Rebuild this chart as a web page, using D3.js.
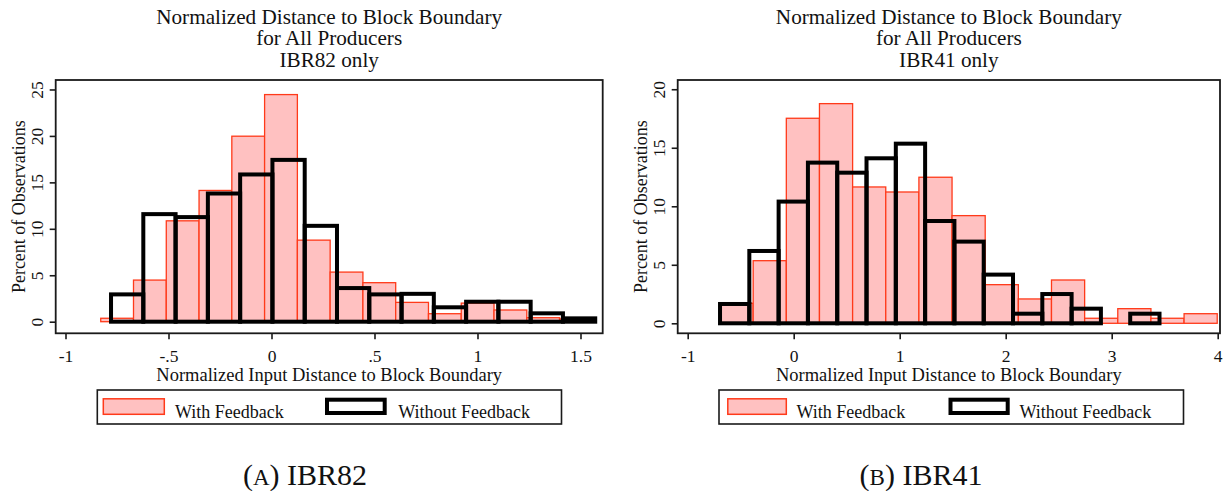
<!DOCTYPE html>
<html>
<head>
<meta charset="utf-8">
<script src="https://cdn.jsdelivr.net/npm/d3@7"></script>
<style>
  html, body { margin: 0; padding: 0; background: #fff; }
  svg { display: block; }
</style>
</head>
<body>
<svg id="chart" width="1224" height="491"></svg>
<script>
// ---- Data: percent of observations per histogram bin ----
// IBR82 panel
const ibr82WithFeedback    = [0.37, 4.48, 10.86, 14.13, 19.97, 24.45, 8.78, 5.34, 4.2, 2.08, 0.86, 2.0, 1.26, 0.43, 0.3];
const ibr82WithoutFeedback = [2.94, 11.58, 11.26, 13.8, 15.85, 17.42, 10.32, 3.62, 2.94, 3.0, 1.55, 2.15, 2.15, 0.9, 0.36];
const ibr82WithStart = -0.829, ibr82WithWidth = 0.1591;
const ibr82WithoutStart = -0.779, ibr82WithoutWidth = 0.1567;

// IBR41 panel
const ibr41WithFeedback    = [1.71, 5.35, 17.52, 18.77, 11.65, 11.22, 12.48, 9.2, 3.3, 2.08, 3.7, 0.43, 1.25, 0.43, 0.82];
const ibr41WithoutFeedback = [1.65, 6.18, 10.4, 13.73, 12.87, 14.1, 15.35, 8.74, 6.98, 4.16, 0.82, 2.5, 1.25, 0, 0.82];
const ibr41WithStart = -0.695, ibr41WithWidth = 0.3127;
const ibr41WithoutStart = -0.695, ibr41WithoutWidth = 0.2764;

// Axis ticks and labels
const ibr82XTicks = [-1, -0.5, 0, 0.5, 1, 1.5];
const ibr82XLabels = ["-1", "-.5", "0", ".5", "1", "1.5"];
const ibr82YTicks = [0, 5, 10, 15, 20, 25];
const ibr41XTicks = [-1, 0, 1, 2, 3, 4];
const ibr41XLabels = ["-1", "0", "1", "2", "3", "4"];
const ibr41YTicks = [0, 5, 10, 15, 20];

const titleLines1 = ["Normalized Distance to Block Boundary", "for All Producers", "IBR82 only"];
const titleLines2 = ["Normalized Distance to Block Boundary", "for All Producers", "IBR41 only"];
const xTitle = "Normalized Input Distance to Block Boundary";
const yTitle = "Percent of Observations";
const seriesNames = ["With Feedback", "Without Feedback"];

const RED_FILL = "#ffc1c1", RED_LINE = "#ff3a1a";

// Pick the first installed serif face from a list by comparing rendered widths
function pickSerif() {
  const ctx = document.createElement("canvas").getContext("2d");
  const probe = "Normalized Boundary mmwwii 0123";
  const w = f => { ctx.font = "40px " + f; return ctx.measureText(probe).width; };
  const base = [w("monospace"), w("sans-serif")];
  const list = ["Liberation Serif", "Tinos", "Times New Roman", "DejaVu Serif", "Noto Serif", "FreeSerif", "Nimbus Roman"];
  for (const name of list) {
    const a = w(`'${name}', monospace`), b = w(`'${name}', sans-serif`);
    if (a === b && a !== base[0]) return `'${name}', serif`;
  }
  return "serif";
}
const FONT = pickSerif();

const svg = d3.select("#chart");

function drawPanel(p) {
  const g = svg.append("g").style("font-family", FONT);
  const x = d3.scaleLinear().domain(p.xDomain).range([p.left, p.right]);
  const y = d3.scaleLinear().domain(p.yDomain).range([p.bottom, p.top]);
  const cx = (p.left + p.right) / 2;

  // Title (three centred lines)
  g.append("g").selectAll("text").data(p.title).join("text")
    .attr("x", cx).attr("y", (d, i) => 24 + i * 21.3).attr("fill", "#111")
    .attr("text-anchor", "middle").style("font-size", "21.2px").text(d => d);

  // Bars: with feedback (filled)
  const bins = (vals, start, w) => vals.map((v, i) => ({ x0: start + i * w, x1: start + (i + 1) * w, v }));
  g.append("g").selectAll("rect").data(bins(p.withVals, p.withStart, p.withWidth)).join("rect")
    .attr("x", d => x(d.x0)).attr("width", d => x(d.x1) - x(d.x0))
    .attr("y", d => y(d.v)).attr("height", d => y(0) - y(d.v))
    .attr("fill", RED_FILL).attr("stroke", RED_LINE).attr("stroke-width", 1.3);

  // Bars: without feedback (thick outline)
  g.append("g").selectAll("rect").data(bins(p.withoutVals, p.withoutStart, p.withoutWidth).filter(d => d.v > 0)).join("rect")
    .attr("x", d => x(d.x0)).attr("width", d => x(d.x1) - x(d.x0))
    .attr("y", d => y(d.v)).attr("height", d => y(0) - y(d.v))
    .attr("fill", "none").attr("stroke", "#000").attr("stroke-width", 4)
    .attr("stroke-linejoin", "miter");

  // Plot frame
  g.append("rect").attr("x", p.left).attr("y", p.top)
    .attr("width", p.right - p.left).attr("height", p.bottom - p.top)
    .attr("fill", "none").attr("stroke", "#1a1a1a").attr("stroke-width", 1.8);

  // X axis
  const xa = g.append("g").attr("transform", `translate(0,${p.bottom})`)
    .call(d3.axisBottom(x).tickValues(p.xTicks).tickFormat((d, i) => p.xLabels[i]).tickSize(6).tickSizeOuter(0));
  xa.attr("font-family", null).attr("font-size", null);
  xa.select(".domain").remove();
  xa.selectAll("line").attr("stroke", "#1a1a1a").attr("stroke-width", 1.6);
  xa.selectAll("text").attr("y", 28.5).attr("dy", 0).style("font-size", "17.5px").attr("fill", "#111");

  // Y axis with rotated labels
  const ya = g.append("g").attr("transform", `translate(${p.left},0)`)
    .call(d3.axisLeft(y).tickValues(p.yTicks).tickSize(6).tickSizeOuter(0));
  ya.attr("font-family", null).attr("font-size", null);
  ya.select(".domain").remove();
  ya.selectAll("line").attr("stroke", "#1a1a1a").attr("stroke-width", 1.6);
  ya.selectAll("text").attr("transform", "rotate(-90)").attr("x", 0).attr("y", -12.5).attr("dy", 0)
    .attr("text-anchor", "middle").style("font-size", "17.5px").attr("fill", "#111");

  // Axis titles
  g.append("text").attr("x", cx).attr("y", 381).attr("text-anchor", "middle").attr("fill", "#111")
    .style("font-size", "18.5px").text(xTitle);
  g.append("text").attr("transform", `translate(${p.left - 31},${(p.top + p.bottom) / 2}) rotate(-90)`)
    .attr("text-anchor", "middle").attr("fill", "#111").style("font-size", "18px").text(yTitle);

  // Legend
  const L = p.legend;
  g.append("rect").attr("x", L.x0).attr("y", 390).attr("width", L.x1 - L.x0).attr("height", 34)
    .attr("fill", "#fff").attr("stroke", "#1a1a1a").attr("stroke-width", 1.6);
  g.append("rect").attr("x", L.sw1).attr("y", 398.8).attr("width", L.swW1).attr("height", 15.5)
    .attr("fill", RED_FILL).attr("stroke", RED_LINE).attr("stroke-width", 1.5);
  g.append("text").attr("x", L.t1).attr("y", 418).attr("fill", "#111").style("font-size", "18px").text(seriesNames[0]);
  g.append("rect").attr("x", L.sw2 + 2).attr("y", 399.7).attr("width", L.swW2 - 4).attr("height", 13.3)
    .attr("fill", "#fff").attr("stroke", "#000").attr("stroke-width", 4);
  g.append("text").attr("x", L.t2).attr("y", 418).attr("fill", "#111").style("font-size", "18px").text(seriesNames[1]);

  // Sub-figure caption with small caps letter
  const cap = g.append("text").attr("x", p.captionX).attr("y", 485).attr("text-anchor", "middle")
    .style("font-size", "30px").attr("fill", "#111");
  cap.append("tspan").text("(");
  cap.append("tspan").style("font-size", "23px").text(p.captionLetter);
  cap.append("tspan").text(") " + p.captionText);
}

drawPanel({
  left: 55.7, right: 602.7, top: 80, bottom: 333.3,
  xDomain: [-1.0476, 1.6078], yDomain: [-1.249, 26.02],
  title: titleLines1,
  withVals: ibr82WithFeedback, withStart: ibr82WithStart, withWidth: ibr82WithWidth,
  withoutVals: ibr82WithoutFeedback, withoutStart: ibr82WithoutStart, withoutWidth: ibr82WithoutWidth,
  xTicks: ibr82XTicks, xLabels: ibr82XLabels, yTicks: ibr82YTicks,
  legend: { x0: 97.3, x1: 561.5, sw1: 103.3, swW1: 61, t1: 175, sw2: 325, swW2: 61.7, t2: 398.3 },
  captionX: 305, captionLetter: "A", captionText: "IBR82"
});

drawPanel({
  left: 677.7, right: 1220, top: 80, bottom: 333.3,
  xDomain: [-1.0943, 4.0217], yDomain: [-0.855, 20.79],
  title: titleLines2,
  withVals: ibr41WithFeedback, withStart: ibr41WithStart, withWidth: ibr41WithWidth,
  withoutVals: ibr41WithoutFeedback, withoutStart: ibr41WithoutStart, withoutWidth: ibr41WithoutWidth,
  xTicks: ibr41XTicks, xLabels: ibr41XLabels, yTicks: ibr41YTicks,
  legend: { x0: 719, x1: 1183.5, sw1: 727.8, swW1: 58.5, t1: 796.4, sw2: 948.5, swW2: 61.2, t2: 1019.4 },
  captionX: 921, captionLetter: "B", captionText: "IBR41"
});
</script>
</body>
</html>
